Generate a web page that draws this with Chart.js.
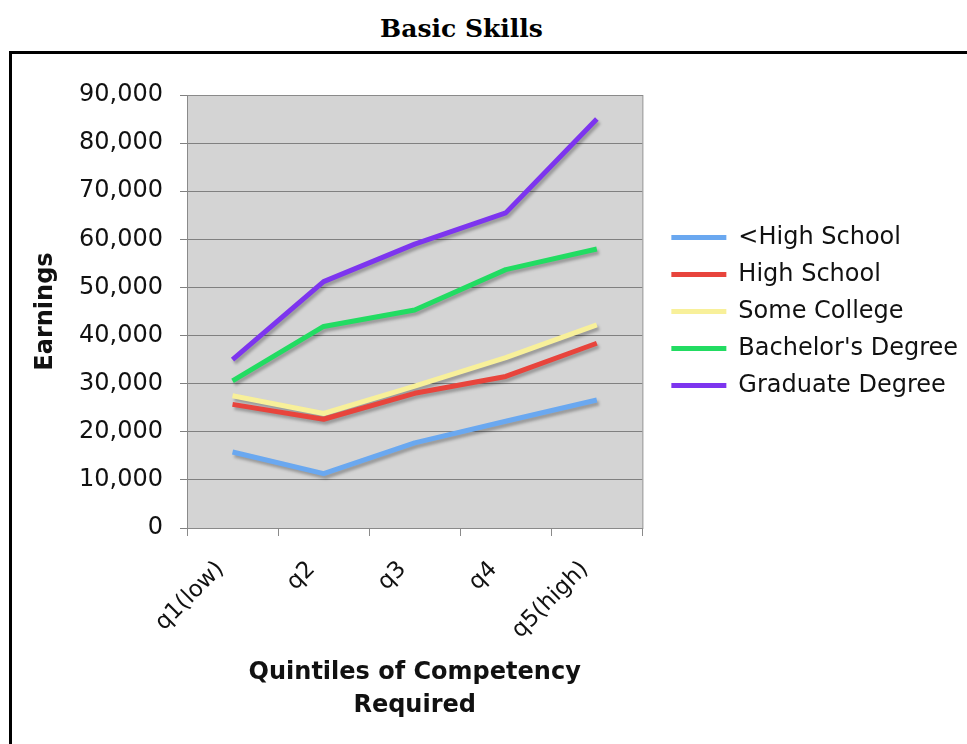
<!DOCTYPE html>
<html>
<head>
<meta charset="utf-8">
<script src="https://cdn.jsdelivr.net/npm/chart.js@4.4.1/dist/chart.umd.min.js"></script>
<style>
  html, body { margin: 0; padding: 0; background: #fff; width: 967px; height: 744px; overflow: hidden; }
  #title {
    position: absolute; left: 0; top: 14px; width: 923px; text-align: center;
    font-family: "DejaVu Serif", serif; font-weight: bold; font-size: 25px; color: #000;
  }
  #frame {
    position: absolute; left: 9px; top: 51px; width: 960px; height: 700px;
    border-left: 3px solid #000; border-top: 3px solid #000;
  }
  #chart { position: absolute; left: 0; top: 0; }
</style>
</head>
<body>
<div id="title">Basic Skills</div>
<div id="frame"><canvas id="chart" width="955" height="690"></canvas></div>
<script>
const quintiles = ['q1(low)', 'q2', 'q3', 'q4', 'q5(high)'];
const lessHighSchool = [15800, 11300, 17700, 22200, 26600];
const highSchool = [25700, 22600, 28000, 31500, 38400];
const someCollege = [27500, 23800, 29500, 35400, 42200];
const bachelors = [30600, 41900, 45300, 53700, 58000];
const graduate = [35000, 51200, 59000, 65500, 85000];

const yTicks = { min: 0, max: 90000, step: 10000 };

// gray plot area + border around it
const plotBox = {
  id: 'plotBox',
  beforeDraw(chart) {
    const { ctx, chartArea: a } = chart;
    ctx.save();
    ctx.fillStyle = '#d4d4d4';
    ctx.fillRect(a.left, a.top, a.right - a.left, a.bottom - a.top);
    ctx.restore();
  },
  beforeDatasetsDraw(chart) {
    const { ctx, chartArea: a } = chart;
    ctx.save();
    ctx.strokeStyle = '#8a8a8a';
    ctx.lineWidth = 1;
    ctx.strokeRect(a.left + 0.5, a.top + 0.5, a.right - a.left, a.bottom - a.top);
    ctx.restore();
  }
};

// soft drop shadow under the lines
const lineShadow = {
  id: 'lineShadow',
  beforeDatasetDraw(chart) {
    const c = chart.ctx;
    c.save();
    c.shadowColor = 'rgba(0,0,0,0.28)';
    c.shadowBlur = 3;
    c.shadowOffsetX = 2;
    c.shadowOffsetY = 3;
  },
  afterDatasetDraw(chart) {
    chart.ctx.restore();
  }
};

// push the legend a bit away from the plot
const legendGap = {
  id: 'legendGap',
  afterLayout(chart) {
    const l = chart.legend;
    l.left += 16;
    l.right += 16;
    l.adjustHitBoxes();
  }
};

const mk = (label, data, color) => ({
  label, data,
  borderColor: color,
  backgroundColor: color,
  borderWidth: 5,
  pointRadius: 0,
  tension: 0,
  borderJoinStyle: 'round',
  borderCapStyle: 'butt'
});

const ctx = document.getElementById('chart').getContext('2d');
new Chart(ctx, {
  type: 'line',
  data: {
    labels: quintiles,
    datasets: [
      mk('<High School', lessHighSchool, '#6aa8f0'),
      mk('High School', highSchool, '#e8443c'),
      mk('Some College', someCollege, '#f8f09a'),
      mk("Bachelor's Degree", bachelors, '#22dc62'),
      mk('Graduate Degree', graduate, '#7d35ef')
    ]
  },
  options: {
    responsive: false,
    animation: false,
    layout: { padding: { top: 41, right: 15, bottom: 0, left: 0 } },
    plugins: {
      title: { display: false },
      tooltip: { enabled: false },
      legend: {
        position: 'right',
        fullSize: false,
        maxWidth: 360,
        labels: {
          usePointStyle: true,
          pointStyle: 'line',
          pointStyleWidth: 55,
          padding: 13,
          color: '#111',
          font: { family: 'DejaVu Sans', size: 24 }
        }
      }
    },
    scales: {
      x: {
        offset: true,
        grid: { offset: true, drawOnChartArea: false, drawTicks: true, tickLength: 8, color: '#8a8a8a' },
        border: { color: '#8a8a8a' },
        ticks: {
          minRotation: 45, maxRotation: 45, padding: 20, labelOffset: -12,
          color: '#111',
          font: { family: 'DejaVu Sans', size: 23 }
        },
        title: {
          display: true,
          text: ['Quintiles of Competency', 'Required'],
          color: '#111',
          padding: { top: 0, bottom: 21 },
          font: { family: 'DejaVu Sans', size: 24, weight: 'bold', lineHeight: 1.4 }
        },
        afterFit(scale) { scale.height = 216; }
      },
      y: {
        min: yTicks.min,
        max: yTicks.max,
        grid: { color: '#808080', tickLength: 7, lineWidth: 1 },
        border: { color: '#8a8a8a' },
        ticks: {
          stepSize: yTicks.step,
          padding: 17,
          color: '#111',
          font: { family: 'DejaVu Sans', size: 24 },
          callback: v => v.toLocaleString('en-US')
        },
        title: {
          display: true,
          text: 'Earnings',
          color: '#111',
          padding: { top: 19, bottom: 0 },
          font: { family: 'DejaVu Sans', size: 24, weight: 'bold' }
        },
        afterFit(scale) { scale.width = 175; }
      }
    }
  },
  plugins: [plotBox, lineShadow, legendGap]
});
</script>
</body>
</html>
